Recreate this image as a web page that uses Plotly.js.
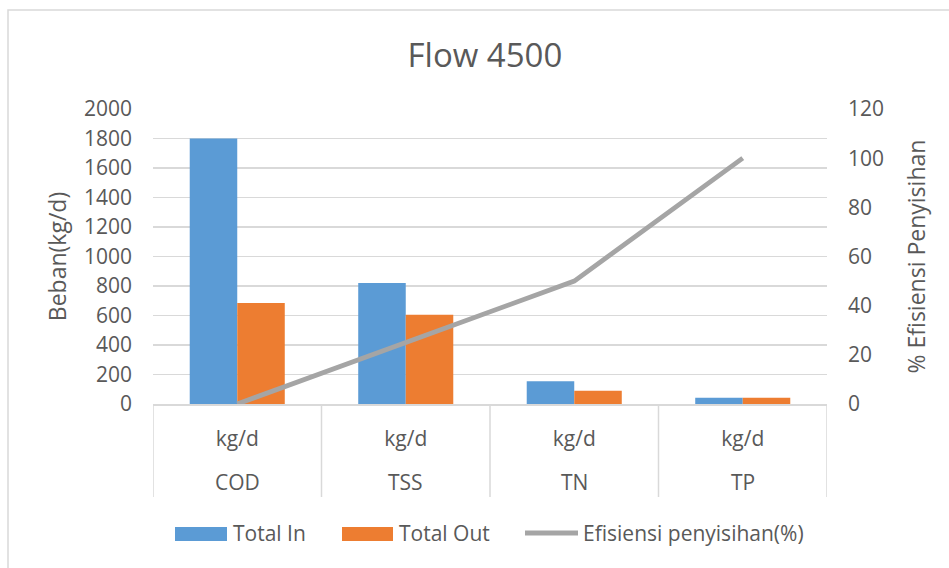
<!DOCTYPE html>
<html>
<head>
<meta charset="utf-8">
<script src="https://cdn.plot.ly/plotly-3.0.1.min.js"></script>
<style>html,body{margin:0;padding:0;background:#fff;}#chart{width:949px;height:568px;}</style>
</head>
<body>
<div id="chart"></div>
<script>
// Data
const parameters = ["COD", "TSS", "TN", "TP"];
const units = ["kg/d", "kg/d", "kg/d", "kg/d"];
const totalIn = [1800, 820, 155, 43];
const totalOut = [685, 605, 90, 43];
const efisiensi = [0, 25, 50, 100];
const titleText = "Flow 4500";
const yTitle = "Beban(kg/d)";
const y2Title = "% Efisiensi Penyisihan";
const seriesNames = ["Total In", "Total Out", "Efisiensi penyisihan(%)"];
const seriesColors = ["#5b9bd5", "#ed7d31", "#a5a5a5"];

const FONT = "Open Sans, sans-serif";
const TXT = "#595959";
const GRID = "#d9d9d9";

// plot area geometry (pixels) for paper conversions
const L = 153, R = 827, T = 109, B = 404;
const px = v => (v - L) / (R - L);
const py = v => (B - v) / (B - T);

const traces = [
  {type: "bar", name: seriesNames[0], x: parameters, y: totalIn, marker: {color: seriesColors[0]}, yaxis: "y"},
  {type: "bar", name: seriesNames[1], x: parameters, y: totalOut, marker: {color: seriesColors[1]}, yaxis: "y"},
  {type: "scatter", mode: "lines", name: seriesNames[2], x: parameters, y: efisiensi, yaxis: "y2",
   line: {color: seriesColors[2], width: 4.8}}
];

const shapes = [
  {type: "rect", xref: "paper", yref: "paper", x0: px(8), x1: px(960), y0: py(580), y1: py(10),
   line: {color: GRID, width: 1.5}, fillcolor: "rgba(0,0,0,0)", layer: "below"}
];
// category dividers (table lines under the axis)
for (let i = 0; i <= parameters.length; i++) {
  shapes.push({type: "line", xref: "x", yref: "paper", x0: i - 0.5, x1: i - 0.5, y0: 0, y1: py(497),
               line: {color: GRID, width: 1.5}});
}
// manual legend symbols
shapes.push({type: "rect", xref: "paper", yref: "paper", x0: px(175), x1: px(227), y0: py(541), y1: py(527),
             fillcolor: seriesColors[0], line: {width: 0}});
shapes.push({type: "rect", xref: "paper", yref: "paper", x0: px(342), x1: px(393), y0: py(541), y1: py(527),
             fillcolor: seriesColors[1], line: {width: 0}});
shapes.push({type: "line", xref: "paper", yref: "paper", x0: px(525), x1: px(578), y0: py(533), y1: py(533),
             line: {color: seriesColors[2], width: 4.8}});

const annotations = parameters.map(p => ({
  xref: "x", yref: "paper", x: p, y: py(482), yanchor: "middle", xanchor: "center",
  text: p, showarrow: false, font: {family: FONT, size: 21, color: TXT}
}));
const legendX = [233, 399, 583];
seriesNames.forEach((n, i) => annotations.push({
  xref: "paper", yref: "paper", x: px(legendX[i] - 2), y: py(533), xanchor: "left", yanchor: "middle",
  text: n, showarrow: false, font: {family: FONT, size: 21, color: TXT}
}));

const layout = {
  width: 949, height: 568,
  margin: {l: L, r: 949 - R, t: T, b: 568 - B},
  paper_bgcolor: "#fff", plot_bgcolor: "#fff",
  font: {family: FONT, color: TXT, size: 21},
  title: {text: titleText, font: {family: FONT, size: 33, color: TXT},
          xref: "container", x: 0.511, xanchor: "center", yref: "container", y: 0.902, yanchor: "middle"},
  barmode: "group", bargap: 0.436, bargroupgap: 0,
  showlegend: false,
  xaxis: {type: "category", tickmode: "array", tickvals: parameters, ticktext: units,
          showgrid: false, showline: true, linecolor: GRID, linewidth: 1.5, ticks: "",
          ticklabelstandoff: 15,
          tickfont: {family: FONT, size: 21, color: TXT}, range: [-0.5, 3.5]},
  yaxis: {range: [0, 2000], dtick: 200, showgrid: true, gridcolor: GRID, gridwidth: 1.2,
          zeroline: false, showline: false, ticks: "", ticklabelstandoff: 20,
          tickfont: {family: FONT, size: 21, color: TXT},
          title: {text: yTitle, font: {family: FONT, size: 23, color: TXT}, standoff: 10}},
  yaxis2: {range: [0, 120], dtick: 20, overlaying: "y", side: "right", showgrid: false,
           zeroline: false, showline: false, ticks: "", ticklabelstandoff: 20,
           tickfont: {family: FONT, size: 21, color: TXT},
           title: {text: y2Title, font: {family: FONT, size: 23, color: TXT}, standoff: 25}},
  shapes: shapes,
  annotations: annotations
};

Plotly.newPlot("chart", traces, layout, {displayModeBar: false, staticPlot: true});
</script>
</body>
</html>
